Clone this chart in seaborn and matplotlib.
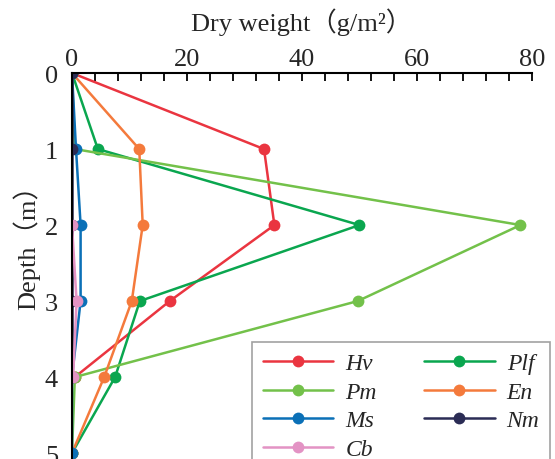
import matplotlib
matplotlib.use("Agg")
import matplotlib.pyplot as plt
import seaborn as sns
import numpy as np
from matplotlib.ticker import MultipleLocator

sns.set_style("white")
plt.rcParams['font.family'] = ['Liberation Serif', 'Noto Sans CJK SC']

depth = [0, 1, 2, 3, 4, 5]
hv = [0, 33.4, 35.2, 17.0, 0.5, np.nan]
plf = [0, 4.5, 50.0, 11.8, 7.5, 0]
pm = [0, 0.5, 78.0, 49.7, 0.5, 0]
en = [0, 11.7, 12.3, 10.4, 5.6, 0]
ms = [0, 0.7, 1.5, 1.5, 0, 0]
nm = [0, 0, 0, 0, 0, np.nan]
cb = [np.nan, np.nan, 0, 0.8, 0.2, np.nan]

names = ['Hv', 'Plf', 'Pm', 'En', 'Ms', 'Nm', 'Cb']
series = [hv, plf, pm, en, ms, nm, cb]
colors = ['#ea3540', '#0aa64f', '#73c14a', '#f47a3c', '#0b70b7', '#2b2c55', '#e393c4']

fig = plt.figure(figsize=(5.55, 4.6), dpi=100)
ax = fig.add_axes([0.1297, -0.0036, 0.8288, 0.8426])

for name, vals, c in zip(names, series, colors):
    sns.lineplot(x=vals, y=depth, orient='y', estimator=None, ax=ax, color=c,
                 marker='o', markersize=8.5, markeredgewidth=0, linewidth=1.8,
                 label=name)

ax.set_xlim(0, 80)
ax.set_ylim(5.1, 0)
ax.xaxis.set_ticks_position('top')
ax.xaxis.set_label_position('top')
ax.xaxis.set_major_locator(MultipleLocator(20))
ax.xaxis.set_minor_locator(MultipleLocator(4))
ax.tick_params(axis='x', which='both', direction='in', length=6, width=1.3,
               labelsize=19, pad=2, top=True, bottom=False, color='black')
ax.set_yticks(depth)
ax.tick_params(axis='y', length=0, labelsize=19, pad=10)

for s in ['right', 'bottom']:
    ax.spines[s].set_visible(False)
for s in ['left', 'top']:
    ax.spines[s].set_color('black')
    ax.spines[s].set_linewidth(1.5)

ax.set_xlabel('Dry weight（g/m²）', fontsize=19, labelpad=13)
ax.set_ylabel('Depth（m）', fontsize=19)
ax.yaxis.set_label_coords(-0.068, 0.57)

h, l = ax.get_legend_handles_labels()
order = [0, 2, 4, 6, 1, 3, 5]
leg = ax.legend([h[i] for i in order], [l[i] for i in order], ncol=2,
                loc='upper left', bbox_to_anchor=(0.454, 0.1543, 0.537, 0.1),
                bbox_transform=fig.transFigure, mode='expand', borderaxespad=0,
                fancybox=False, frameon=True, handlelength=3.0,
                handletextpad=0.5, borderpad=0.45,
                labelspacing=0.3, prop={'style': 'italic', 'size': 17})
leg.get_frame().set_edgecolor('#8a8a8a')
leg.get_frame().set_linewidth(1.2)

fig.savefig('out.png', dpi=100)
